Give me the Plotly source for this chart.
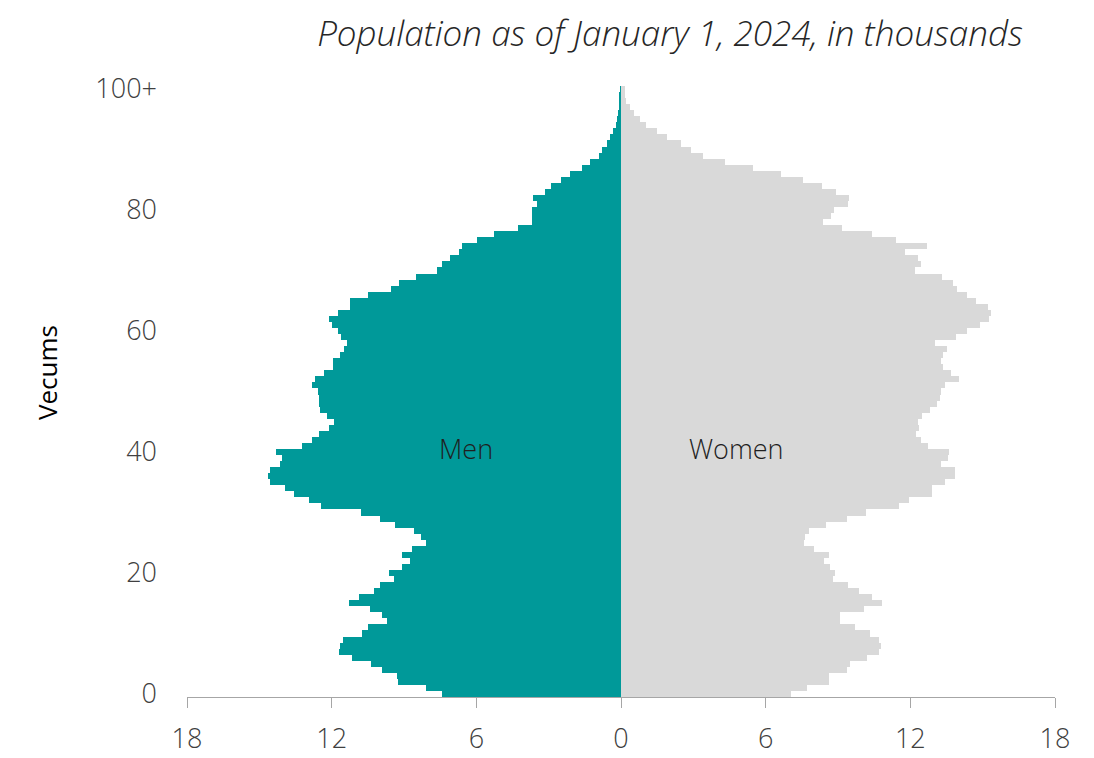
import plotly.graph_objects as go

ages = list(range(0, 101))

men = [7.44, 8.09, 9.24, 9.30, 9.90, 10.37, 11.14, 11.71, 11.65, 11.54,
       10.73, 10.51, 9.69, 9.93, 10.41, 11.30, 10.85, 10.23, 10.00, 9.40,
       9.61, 9.08, 8.77, 9.08, 8.68, 8.09, 8.30, 8.60, 9.39, 10.01,
       10.78, 12.46, 12.94, 13.55, 13.95, 14.56, 14.66, 14.56, 14.14, 14.07,
       14.32, 13.24, 12.80, 12.54, 12.11, 11.92, 12.21, 12.47, 12.53, 12.54,
       12.55, 12.80, 12.70, 12.32, 11.95, 11.94, 11.65, 11.48, 11.35, 11.60,
       11.74, 11.99, 12.11, 11.74, 11.25, 11.25, 10.51, 9.54, 9.22, 8.52,
       7.65, 7.41, 7.08, 6.71, 6.59, 5.99, 5.27, 4.26, 3.70, 3.69,
       3.68, 3.50, 3.64, 3.15, 2.90, 2.50, 2.13, 1.62, 1.30, 0.90,
       0.79, 0.58, 0.47, 0.33, 0.21, 0.17, 0.12, 0.10, 0.07, 0.05,
       0.04]

women = [7.05, 7.70, 8.63, 8.63, 9.37, 9.50, 10.22, 10.71, 10.78, 10.71,
         10.33, 9.71, 9.08, 9.08, 10.08, 10.84, 10.42, 9.86, 9.40, 8.79,
         8.89, 8.66, 8.43, 8.64, 7.99, 7.60, 7.63, 7.81, 8.50, 9.36,
         10.16, 11.53, 11.96, 12.89, 12.89, 13.44, 13.87, 13.87, 13.27, 13.55,
         13.62, 12.75, 12.44, 12.25, 12.35, 12.30, 12.47, 12.82, 13.09, 13.23,
         13.27, 13.45, 14.01, 13.67, 13.36, 13.29, 13.36, 13.51, 13.02, 13.89,
         14.34, 14.88, 15.26, 15.35, 15.21, 14.74, 14.35, 13.92, 13.77, 13.33,
         12.19, 12.44, 12.33, 11.79, 12.68, 11.41, 10.40, 9.17, 8.36, 8.70,
         8.82, 9.42, 9.46, 8.90, 8.34, 7.53, 6.62, 5.46, 4.31, 3.39,
         2.92, 2.50, 1.92, 1.49, 1.02, 0.80, 0.54, 0.37, 0.19, 0.17,
         0.15]

x_tickvals = [-18, -12, -6, 0, 6, 12, 18]
x_ticktext = ["18", "12", "6", "0", "6", "12", "18"]
y_tickvals = [0, 20, 40, 60, 80, 100]
y_ticktext = ["0", "20", "40", "60", "80", "100+"]

title_text = "Population as of January 1, 2024, in thousands"
y_title = "Vecums"
men_label = "Men"
women_label = "Women"

TEAL = "#009999"
GRAY = "#d9d9d9"
FONT = "Open Sans"

# plot area in figure pixels (page body adds an 8px offset)
L, R, T, B = 179, 47, 78, 69
W, H = 1094, 758
PW, PH = W - L - R, H - T - B

fig = go.Figure()
fig.add_trace(go.Bar(
    y=ages, x=[-v for v in men], orientation="h", name=men_label,
    marker=dict(color=TEAL, line=dict(width=0)),
    customdata=men, hovertemplate="Age %{y}: %{customdata}<extra>Men</extra>",
))
fig.add_trace(go.Bar(
    y=ages, x=women, orientation="h", name=women_label,
    marker=dict(color=GRAY, line=dict(width=0)),
    hovertemplate="Age %{y}: %{x}<extra>Women</extra>",
))

tickfont = dict(family=FONT, size=27, color="#404040", weight=300)

fig.update_layout(
    width=W, height=H,
    margin=dict(l=L, r=R, t=T, b=B, autoexpand=False),
    paper_bgcolor="white", plot_bgcolor="white",
    barmode="overlay", bargap=0,
    showlegend=False,
    font=dict(family=FONT, size=24, color="#404040", weight=300),
    title=dict(
        text=title_text,
        x=662 / W, xref="container", xanchor="center",
        y=1 - 26 / H, yref="container", yanchor="middle",
        font=dict(family=FONT, size=35, color="#262626", style="italic", weight=300),
    ),
    xaxis=dict(
        range=[-18, 18], tickvals=x_tickvals, ticktext=x_ticktext,
        showgrid=False, zeroline=False,
        showline=True, linecolor="#a6a6a6", linewidth=1,
        ticks="outside", ticklen=10, tickcolor="#a6a6a6", tickwidth=1,
        ticklabelstandoff=8, automargin=False,
        tickfont=tickfont,
        fixedrange=True,
    ),
    yaxis=dict(
        range=[-0.5, 100.5], tickvals=y_tickvals, ticktext=y_ticktext,
        showgrid=False, zeroline=False, showline=False, ticks="",
        ticklabelstandoff=29, automargin=False,
        tickfont=tickfont,
        fixedrange=True,
    ),
    annotations=[
        dict(text=y_title, xref="paper", yref="paper",
             x=(39 - L) / PW, y=(H - B - 365) / PH,
             xanchor="center", yanchor="middle", textangle=-90, showarrow=False,
             font=dict(family=FONT, size=26, color="#000000", weight=400)),
        dict(text=men_label, x=-6.43, y=40.6, xref="x", yref="y",
             showarrow=False, xanchor="center", yanchor="middle",
             font=dict(family=FONT, size=27, color="#1f1f1f", weight=300)),
        dict(text=women_label, x=4.81, y=40.6, xref="x", yref="y",
             showarrow=False, xanchor="center", yanchor="middle",
             font=dict(family=FONT, size=27, color="#1f1f1f", weight=300)),
    ],
)

fig.write_html("out.html")
